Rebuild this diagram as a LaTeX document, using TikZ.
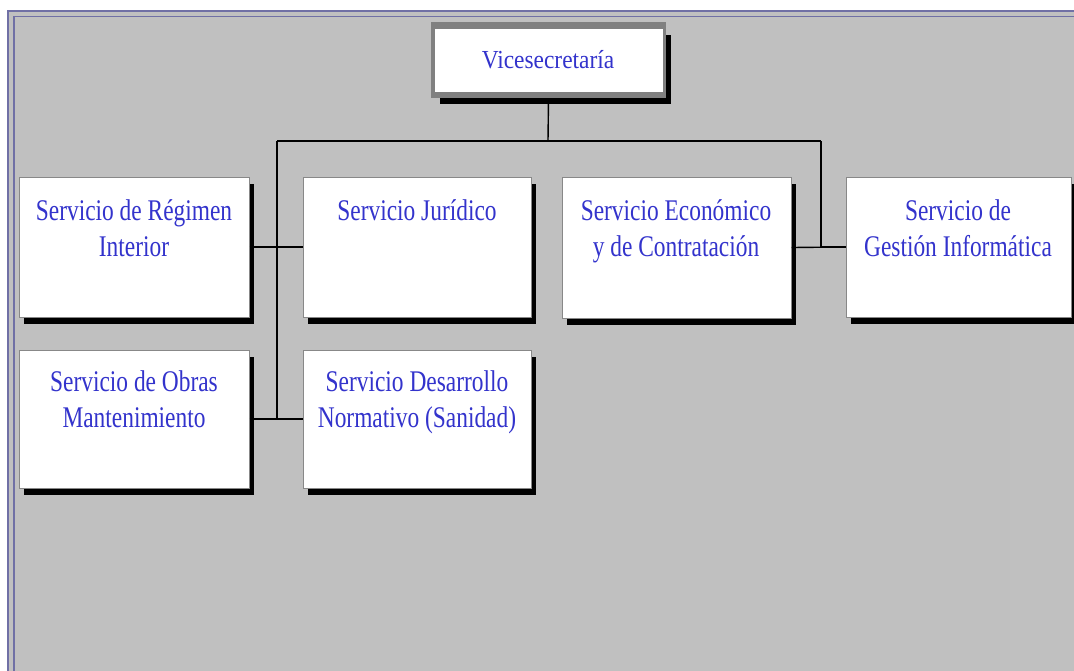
\documentclass[tikz,border=0pt]{standalone}
\usepackage{fontspec}
\usetikzlibrary{shadows}
\newfontfamily\svcfont[FakeStretch=0.78]{Liberation Serif}
\newfontfamily\vicefont[FakeStretch=0.9]{Liberation Serif}
\definecolor{bggray}{RGB}{192,192,192}
\definecolor{framecol}{RGB}{112,112,165}
\definecolor{txtblue}{RGB}{51,51,204}
\definecolor{boxedge}{RGB}{136,136,136}
\definecolor{viceedge}{RGB}{128,128,128}
\tikzset{
  frameline/.style={draw=framecol, line width=1.5pt},
  svcbox/.style={draw=boxedge, fill=white, line width=1pt, inner sep=0pt,
    drop shadow={shadow xshift=5pt, shadow yshift=-7pt, fill=black, opacity=1}},
  vicebox/.style={fill=viceedge, inner sep=0pt,
    minimum width=235pt, minimum height=76pt},
  svctext/.style={anchor=north, inner sep=0pt, align=center, text=txtblue,
    font=\svcfont\fontsize{30}{36}\selectfont},
  vicetext/.style={anchor=base, inner sep=0pt, text=txtblue,
    font=\vicefont\fontsize{26}{30}\selectfont},
  conn/.style={draw=black, line width=1.4pt}
}
\newcommand{\fs}{\rule{0pt}{24pt}}
\begin{document}
\begin{tikzpicture}[x=1pt, y=-1pt]
\useasboundingbox (0,0) rectangle (1074,670);
% background panel
\fill[white] (0,0) rectangle (1074,670);
\fill[bggray] (8,11) rectangle (1080,680);
\draw[frameline] (8,680) -- (8,11) -- (1080,11);
\draw[frameline] (14,680) -- (14,16.5) -- (1080,16.5);

% top box: shadow, grey frame, white face
\fill[black] (440,35) rectangle (671,104);
\node[vicebox] (vice) at (548.5,60) {};
\fill[white] (434.5,29) rectangle (662.5,92);
\node[vicetext] (viceT) at (548,68) {Vicesecretaría};

% service boxes
\node[svcbox, minimum width=230pt, minimum height=140pt] (reg) at (134,247) {};
\node[svcbox, minimum width=228pt, minimum height=140pt] (jur) at (417,247) {};
\node[svcbox, minimum width=229pt, minimum height=141pt] (eco) at (676.5,247.5) {};
\node[svcbox, minimum width=225pt, minimum height=140pt] (ges) at (958.5,247) {};
\node[svcbox, minimum width=230pt, minimum height=138pt] (obr) at (134,419) {};
\node[svcbox, minimum width=228pt, minimum height=138pt] (des) at (417,419) {};

\node[svctext] (regT) at (134,196) {\fs Servicio de Régimen\\Interior};
\node[svctext] (jurT) at (417,196) {\fs Servicio Jurídico};
\node[svctext] (ecoT) at (676,196) {\fs Servicio Económico\\y de Contratación};
\node[svctext] (gesT) at (958,196) {\fs Servicio de\\Gestión Informática};
\node[svctext] (obrT) at (134,367) {\fs Servicio de Obras\\Mantenimiento};
\node[svctext] (desT) at (417,367) {\fs Servicio Desarrollo\\Normativo (Sanidad)};

% connectors
\coordinate (jv) at (548,141);
\coordinate (jl) at (277,141);
\coordinate (jr) at (821,141);
\draw[conn] (vice.south) -- (jv);
\draw[conn] (jl) -- (jr);
\draw[conn] (jl) |- (des.west);
\draw[conn] (reg.east) -- (jur.west);
\draw[conn] (obr.east) -- (des.west);
\draw[conn] (jr) |- (ges.west);
\draw[conn] (eco.east) -- (ges.west);
\end{tikzpicture}
\end{document}
